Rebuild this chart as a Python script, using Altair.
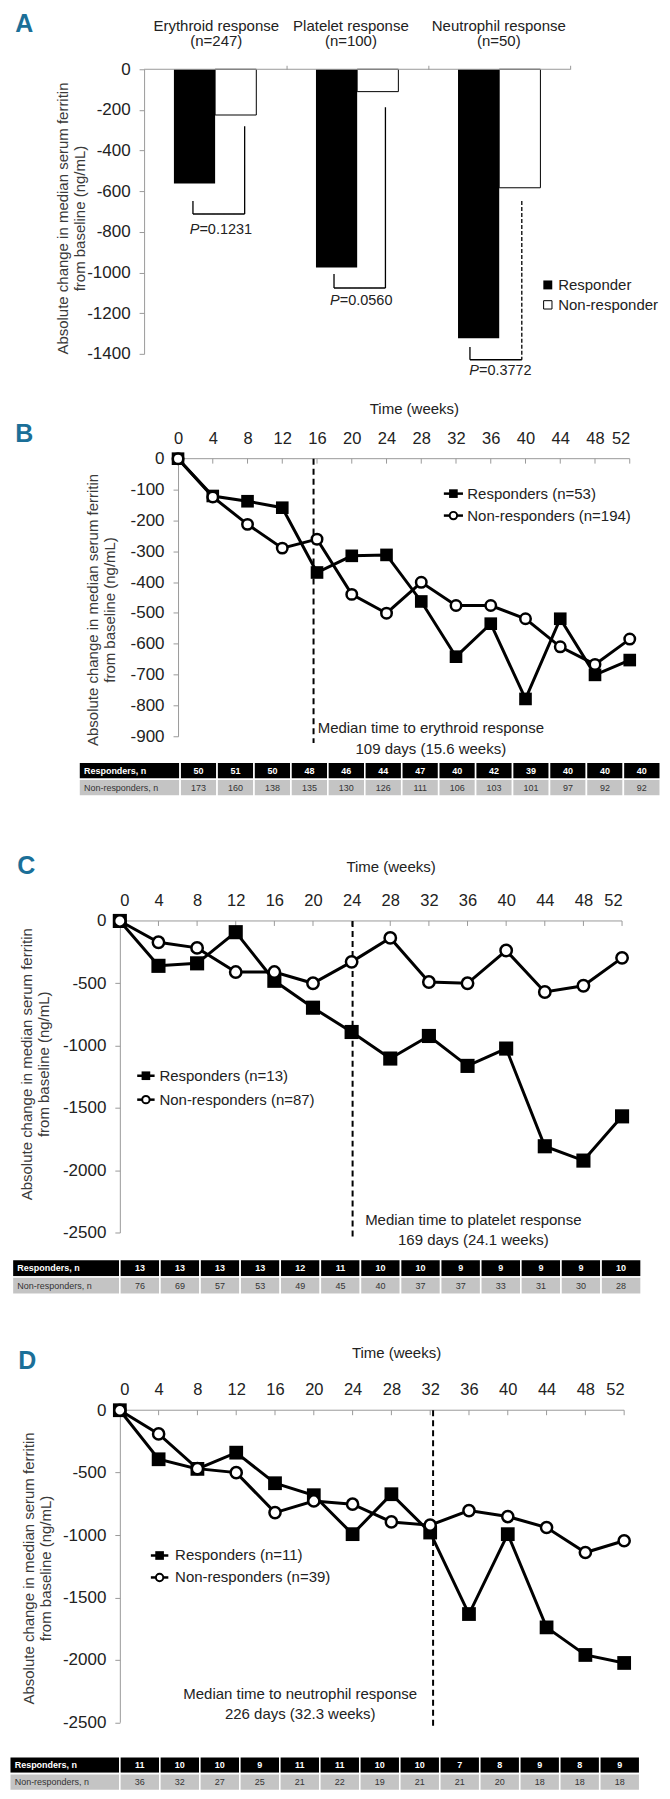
import altair as alt
import pandas as pd

# ------------------------------------------------------------------ data
categories = ["Erythroid response", "Platelet response", "Neutrophil response"]
category_n = ["(n=247)", "(n=100)", "(n=50)"]
responder_change = [-562, -975, -1323]
nonresponder_change = [-225, -110, -583]
p_values = ["=0.1231", "=0.0560", "=0.3772"]

weeks = [0, 4, 8, 12, 16, 20, 24, 28, 32, 36, 40, 44, 48, 52]

ery_responders = [0, -121, -138, -159, -369, -315, -312, -463, -642, -535, -779, -519, -701, -653]
ery_nonresponders = [0, -124, -213, -290, -261, -440, -501, -401, -476, -476, -519, -610, -667, -585]
plt_responders = [0, -360, -340, -90, -480, -696, -891, -1104, -923, -1163, -1024, -1808, -1923, -1568]
plt_nonresponders = [0, -171, -216, -410, -410, -500, -328, -136, -490, -500, -237, -570, -520, -296]
neu_responders = [0, -393, -470, -340, -585, -681, -993, -673, -980, -1633, -993, -1740, -1961, -2025]
neu_nonresponders = [0, -190, -468, -500, -820, -727, -753, -895, -921, -804, -852, -940, -1140, -1046]

ery_n_resp = [50, 51, 50, 48, 46, 44, 47, 40, 42, 39, 40, 40, 40]
ery_n_non = [173, 160, 138, 135, 130, 126, 111, 106, 103, 101, 97, 92, 92]
plt_n_resp = [13, 13, 13, 13, 12, 11, 10, 10, 9, 9, 9, 9, 10]
plt_n_non = [76, 69, 57, 53, 49, 45, 40, 37, 37, 33, 31, 30, 28]
neu_n_resp = [11, 10, 10, 9, 11, 11, 10, 10, 7, 8, 9, 8, 9]
neu_n_non = [36, 32, 27, 25, 21, 22, 19, 21, 21, 20, 18, 18, 18]

# ------------------------------------------------------------------ style
FONT = "'Liberation Sans', Arial, sans-serif"
TEAL = "#1b6f98"
AXC = "#9a9a9a"
TXT = "#222222"
TXT2 = "#3a3a3a"
YTITLE = ["Absolute change in median serum ferritin", "from baseline (ng/mL)"]
FS_TEXT = 15


def lin(domain, reverse=False):
    if reverse:
        return alt.Scale(domain=domain, nice=False, zero=False, reverse=True)
    return alt.Scale(domain=domain, nice=False, zero=False)


def yaxis(values, offset, tix, tiy):
    return alt.Axis(orient="left", offset=offset, values=values,
                    labelExpr="datum.value + ''", labelFont=FONT, labelFontSize=17,
                    labelColor=TXT, labelPadding=9, tickSize=5, tickColor=AXC,
                    domainColor=AXC, grid=False, title=YTITLE, titleFont=FONT,
                    titleFontSize=15, titleFontWeight="normal", titleColor=TXT2,
                    titleAngle=-90, titleX=tix, titleY=tiy, titleBaseline="bottom",
                    titleAlign="center", titleLineHeight=17)


# ------------------------------------------------------------------ panel A
A_layout = dict(
    xdom=[-0.1708, 3], width=451.1, height=285,
    bar_w=0.29, tix=-73.6, tiy=149,
    head_x=[0.508, 1.456, 2.497], head_y=[211, 137.5],
    letter=(-0.844, 221),
    leg_sq_x=2.842, leg_txt_x=2.915, leg_y=[-1061, -1159],
    brk_left=[0.344, 1.337, 2.294], brk_right=[0.708, 1.699, 2.659],
    brk_ltop=[-648, -1007, -1366], brk_bot=[-712, -1076, -1429],
    brk_rtop=[-280, -187, -648], brk_dash=["solid", "solid", "dashed"],
    p_x=[0.537, 1.525, 2.505], p_y=[-791, -1140, -1484],
)


def panel_a():
    L = A_layout
    sx = lin(L["xdom"])
    sy = lin([-1400, 0])
    xax = alt.Axis(orient="top", values=[1, 2, 3], labels=False, domain=False, ticks=True,
                   tickSize=4, tickColor=AXC, grid=False, title=None)
    yax = yaxis(list(range(0, -1401, -200)), -24.3, L["tix"], L["tiy"])

    def xe(f):
        return alt.X(f, type="quantitative", scale=sx, axis=xax)

    def ye(f):
        return alt.Y(f, type="quantitative", scale=sy, axis=yax)

    df = pd.DataFrame({
        "cat": categories,
        "c": [i + 0.5 for i in range(len(categories))],
        "resp": responder_change,
        "non": nonresponder_change,
    })
    bw = L["bar_w"]
    base = alt.Chart(df).transform_calculate(
        xl=f"datum.c - {bw}", xr=f"datum.c + {bw}", zero="0")
    bars_r = base.mark_rect(color="black").encode(
        x=xe("xl"), x2=alt.X2("c"), y=ye("resp"), y2=alt.Y2("zero"))
    bars_n = base.mark_rect(fill="white", stroke="black", strokeWidth=1).encode(
        x=xe("c"), x2=alt.X2("xr"), y=ye("non"), y2=alt.Y2("zero"))

    top = alt.Chart(pd.DataFrame({"x0": [0], "x1": [len(categories)], "y0": [0]})).mark_rule(
        color=AXC, strokeWidth=1).encode(x=xe("x0"), x2=alt.X2("x1"), y=ye("y0"))

    segs = []
    for i in range(len(categories)):
        xl, xr = L["brk_left"][i], L["brk_right"][i]
        b = L["brk_bot"][i]
        segs.append(dict(x0=xl, x1=xl, y0=L["brk_ltop"][i], y1=b, d="solid"))
        segs.append(dict(x0=xl, x1=xr, y0=b, y1=b, d="solid"))
        segs.append(dict(x0=xr, x1=xr, y0=L["brk_rtop"][i], y1=b, d=L["brk_dash"][i]))
    brackets = alt.Chart(pd.DataFrame(segs)).mark_rule(color="black", strokeWidth=1.3).encode(
        x=xe("x0"), x2=alt.X2("x1"), y=ye("y0"), y2=alt.Y2("y1"),
        strokeDash=alt.StrokeDash("d:N", scale=alt.Scale(domain=["solid", "dashed"],
                                                         range=[[1, 0], [4, 2]]), legend=None))

    pdf = pd.DataFrame({"x": L["p_x"], "y": L["p_y"], "p": p_values})
    p_it = alt.Chart(pdf).mark_text(text="P", align="right", baseline="middle", dx=-21,
                                    font=FONT, fontSize=14.5, fontStyle="italic", color=TXT).encode(
        x=xe("x"), y=ye("y"))
    p_rest = alt.Chart(pdf).mark_text(align="left", baseline="middle", dx=-21,
                                      font=FONT, fontSize=14.5, color=TXT).encode(
        x=xe("x"), y=ye("y"), text="p:N")

    hdr = pd.DataFrame({
        "x": L["head_x"] * 2,
        "y": [L["head_y"][0]] * 3 + [L["head_y"][1]] * 3,
        "t": categories + category_n,
    })
    headers = alt.Chart(hdr).mark_text(align="center", baseline="middle", font=FONT,
                                       fontSize=FS_TEXT, color=TXT).encode(
        x=xe("x"), y=ye("y"), text="t:N")

    leg = pd.DataFrame({"x": [L["leg_sq_x"]] * 2, "xt": [L["leg_txt_x"]] * 2,
                        "y": L["leg_y"], "t": ["Responder", "Non-responder"]})
    leg_r = alt.Chart(leg.iloc[[0]]).mark_point(shape="square", filled=True, color="black",
                                                size=80, opacity=1).encode(x=xe("x"), y=ye("y"))
    leg_n = alt.Chart(leg.iloc[[1]]).mark_point(shape="square", filled=True, fill="white",
                                                stroke="black", strokeWidth=1, size=70,
                                                opacity=1).encode(x=xe("x"), y=ye("y"))
    leg_t = alt.Chart(leg).mark_text(align="left", baseline="middle", font=FONT,
                                     fontSize=FS_TEXT, color=TXT).encode(
        x=xe("xt"), y=ye("y"), text="t:N")

    letter = alt.Chart(pd.DataFrame({"x": [L["letter"][0]], "y": [L["letter"][1]], "t": ["A"]})).mark_text(
        align="center", baseline="middle", font=FONT, fontSize=25, fontWeight="bold",
        color=TEAL).encode(x=xe("x"), y=ye("y"), text="t:N")

    return alt.layer(bars_r, bars_n, top, brackets, p_it, p_rest, headers,
                     leg_r, leg_n, leg_t, letter).properties(width=L["width"], height=L["height"])


# ------------------------------------------------------------------ panels B-D
B_layout = dict(xdom=[-6.70, 52], width=510.7, height=278, ymin=-900,
                yvals=list(range(0, -901, -100)), off=-58.3, tix=-77.8, tiy=151,
                tx=294.5, ty=-50, tick=16, median_week=15.6, dash_end=-922,
                letter=(-17.71, 80.9), letter_txt="B",
                leg_seg=(30.6, 32.8), leg_mark=31.7, leg_txt=33.3, leg_y=[-113.3, -184.5],
                med_x=29.1, med_y=[-874, -942], sq=160, ci=110)
C_layout = dict(xdom=[0, 52], width=503, height=312, ymin=-2500,
                yvals=list(range(0, -2501, -500)), off=0, tix=-85.3, tiy=143,
                tx=271.1, ty=-55, tick=40, median_week=24.1, dash_end=-2556,
                letter=(-9.70, 440.7), letter_txt="C",
                leg_seg=(1.8, 3.6), leg_mark=2.7, leg_txt=4.1, leg_y=[-1242, -1434],
                med_x=36.6, med_y=[-2396, -2564], sq=200, ci=130)
D_layout = dict(xdom=[0, 52], width=505.1, height=312.5, ymin=-2500,
                yvals=list(range(0, -2501, -500)), off=0, tix=-83.3, tiy=158,
                tx=276.6, ty=-57.5, tick=40, median_week=32.3, dash_end=-2540,
                letter=(-9.55, 396), letter_txt="D",
                leg_seg=(3.2, 5.0), leg_mark=4.1, leg_txt=5.7, leg_y=[-1164, -1340],
                med_x=18.6, med_y=[-2276, -2436], sq=190, ci=125)


def line_panel(resp, nonr, legend_labels, median_lines, L):
    sx = lin(L["xdom"])
    sy = lin([L["ymin"], 0])
    xax = alt.Axis(orient="top", values=weeks, labelAngle=0, labelFont=FONT, labelFontSize=16.5,
                   labelColor=TXT, labelPadding=12.5, ticks=False, domain=False, grid=False,
                   title="Time (weeks)", titleFont=FONT, titleFontSize=FS_TEXT,
                   titleFontWeight="normal", titleColor=TXT, titleX=L["tx"], titleY=L["ty"],
                   titleBaseline="middle", titleAlign="center", titleAngle=0)
    yax = yaxis(L["yvals"], L["off"], L["tix"], L["tiy"])

    def xe(f):
        return alt.X(f, type="quantitative", scale=sx, axis=xax)

    def ye(f):
        return alt.Y(f, type="quantitative", scale=sy, axis=yax)

    n = len(weeks)
    series = pd.DataFrame({"week": weeks * 2, "value": resp + nonr,
                           "group": ["Responders"] * n + ["Non-responders"] * n})
    base = alt.Chart(series)

    axis_line = alt.Chart(pd.DataFrame({"x0": [weeks[0]], "x1": [weeks[-1]], "y0": [0]})).mark_rule(
        color=AXC, strokeWidth=1).encode(x=xe("x0"), x2=alt.X2("x1"), y=ye("y0"))
    ticks = alt.Chart(pd.DataFrame({"w": weeks[1:]})).transform_calculate(
        y0="0", y1=f"-{L['tick']}").mark_rule(color=AXC, strokeWidth=1).encode(
        x=xe("w"), y=ye("y0"), y2=alt.Y2("y1"))
    dashed = alt.Chart(pd.DataFrame({"w": [L["median_week"]], "y0": [0], "y1": [L["dash_end"]]})).mark_rule(
        color="black", strokeWidth=2, strokeDash=[6, 4]).encode(
        x=xe("w"), y=ye("y0"), y2=alt.Y2("y1"))

    lines = base.mark_line(color="black", strokeWidth=3).encode(
        x=xe("week"), y=ye("value"), detail="group:N")
    pts_r = base.transform_filter(alt.datum.group == "Responders").mark_point(
        shape="square", filled=True, color="black", size=L["sq"], opacity=1).encode(
        x=xe("week"), y=ye("value"))
    pts_n = base.transform_filter(alt.datum.group == "Non-responders").mark_point(
        shape="circle", filled=True, fill="white", stroke="black", strokeWidth=2.5,
        size=L["ci"], opacity=1).encode(x=xe("week"), y=ye("value"))

    leg = pd.DataFrame({"xa": [L["leg_seg"][0]] * 2, "xb": [L["leg_seg"][1]] * 2,
                        "xm": [L["leg_mark"]] * 2, "xt": [L["leg_txt"]] * 2,
                        "y": L["leg_y"], "t": legend_labels})
    leg_seg = alt.Chart(leg).mark_rule(color="black", strokeWidth=2.5).encode(
        x=xe("xa"), x2=alt.X2("xb"), y=ye("y"))
    leg_r = alt.Chart(leg.iloc[[0]]).mark_point(shape="square", filled=True, color="black",
                                                size=75, opacity=1).encode(x=xe("xm"), y=ye("y"))
    leg_n = alt.Chart(leg.iloc[[1]]).mark_point(shape="circle", filled=True, fill="white",
                                                stroke="black", strokeWidth=2, size=55,
                                                opacity=1).encode(x=xe("xm"), y=ye("y"))
    leg_t = alt.Chart(leg).mark_text(align="left", baseline="middle", font=FONT, fontSize=FS_TEXT,
                                     color=TXT).encode(x=xe("xt"), y=ye("y"), text="t:N")

    med = pd.DataFrame({"x": [L["med_x"]] * 2, "y": L["med_y"], "t": median_lines})
    med_t = alt.Chart(med).mark_text(align="center", baseline="middle", font=FONT, fontSize=FS_TEXT,
                                     color=TXT).encode(x=xe("x"), y=ye("y"), text="t:N")

    letter = alt.Chart(pd.DataFrame({"x": [L["letter"][0]], "y": [L["letter"][1]],
                                     "t": [L["letter_txt"]]})).mark_text(
        align="center", baseline="middle", font=FONT, fontSize=25, fontWeight="bold",
        color=TEAL).encode(x=xe("x"), y=ye("y"), text="t:N")

    return alt.layer(axis_line, ticks, dashed, lines, pts_r, pts_n, leg_seg, leg_r, leg_n,
                     leg_t, med_t, letter).properties(width=L["width"], height=L["height"])


# ------------------------------------------------------------------ tables
TB_layout = dict(xdom=[-1.632, 13], lab=2.738, width=541.3, height=34)
TC_layout = dict(xdom=[0, 13], lab=2.68, width=522.1, height=35)
TD_layout = dict(xdom=[0, 13], lab=2.754, width=520.7, height=34)


def table_panel(n_resp, n_non, L):
    sx = lin(L["xdom"])
    sy = lin([0, 2], reverse=True)
    cells = []
    for r, (lab, vals) in enumerate([("Responders, n", n_resp), ("Non-responders, n", n_non)]):
        cells.append(dict(row=r, x0=-L["lab"], x1=0, xt=-L["lab"], txt=lab, kind="label"))
        for i, v in enumerate(vals):
            cells.append(dict(row=r, x0=i, x1=i + 1, xt=i + 0.5, txt=str(v), kind="value"))
    df = pd.DataFrame(cells)
    df["y0"] = df["row"]
    df["y1"] = df["row"] + 1
    df["ym"] = df["row"] + 0.5

    def xe(f):
        return alt.X(f, type="quantitative", scale=sx, axis=None)

    def ye(f):
        return alt.Y(f, type="quantitative", scale=sy, axis=None)

    base = alt.Chart(df)
    rects = base.mark_rect(stroke="white", strokeWidth=1.6).encode(
        x=xe("x0"), x2=alt.X2("x1"), y=ye("y0"), y2=alt.Y2("y1"),
        fill=alt.Fill("row:N", scale=alt.Scale(domain=[0, 1], range=["#000000", "#c4c4c4"]),
                      legend=None))
    layers = [rects]
    for r, color, weight in [(0, "white", "bold"), (1, "#333333", "normal")]:
        sub = base.transform_filter(alt.datum.row == r)
        layers.append(sub.transform_filter(alt.datum.kind == "label").mark_text(
            align="left", baseline="middle", dx=5, font=FONT, fontSize=9, fontWeight=weight,
            color=color).encode(x=xe("xt"), y=ye("ym"), text="txt:N"))
        layers.append(sub.transform_filter(alt.datum.kind == "value").mark_text(
            align="center", baseline="middle", font=FONT, fontSize=9, fontWeight=weight,
            color=color).encode(x=xe("xt"), y=ye("ym"), text="txt:N"))
    return alt.layer(*layers).properties(width=L["width"], height=L["height"])


def spacer(h):
    return alt.Chart(pd.DataFrame({"s": [0]})).mark_point(opacity=0).encode(
        x=alt.X("s:Q", axis=None), y=alt.Y("s:Q", axis=None)).properties(width=1, height=h)


panelA = panel_a()
panelB = line_panel(ery_responders, ery_nonresponders,
                    ["Responders (n=53)", "Non-responders (n=194)"],
                    ["Median time to erythroid response", "109 days (15.6 weeks)"], B_layout)
panelC = line_panel(plt_responders, plt_nonresponders,
                    ["Responders (n=13)", "Non-responders (n=87)"],
                    ["Median time to platelet response", "169 days (24.1 weeks)"], C_layout)
panelD = line_panel(neu_responders, neu_nonresponders,
                    ["Responders (n=11)", "Non-responders (n=39)"],
                    ["Median time to neutrophil response", "226 days (32.3 weeks)"], D_layout)
tabB = table_panel(ery_n_resp, ery_n_non, TB_layout)
tabC = table_panel(plt_n_resp, plt_n_non, TC_layout)
tabD = table_panel(neu_n_resp, neu_n_non, TD_layout)

chart = alt.vconcat(
    panelA, spacer(105), panelB, spacer(26), tabB, spacer(125), panelC, spacer(27), tabC,
    spacer(115.5), panelD, spacer(33.5), tabD,
    spacing=0, bounds="flush",
).properties(
    padding={"left": 0, "top": 3, "right": 0, "bottom": 0}
).configure_view(stroke=None)

chart.save("out.html", embed_options={"renderer": "svg", "actions": False})
